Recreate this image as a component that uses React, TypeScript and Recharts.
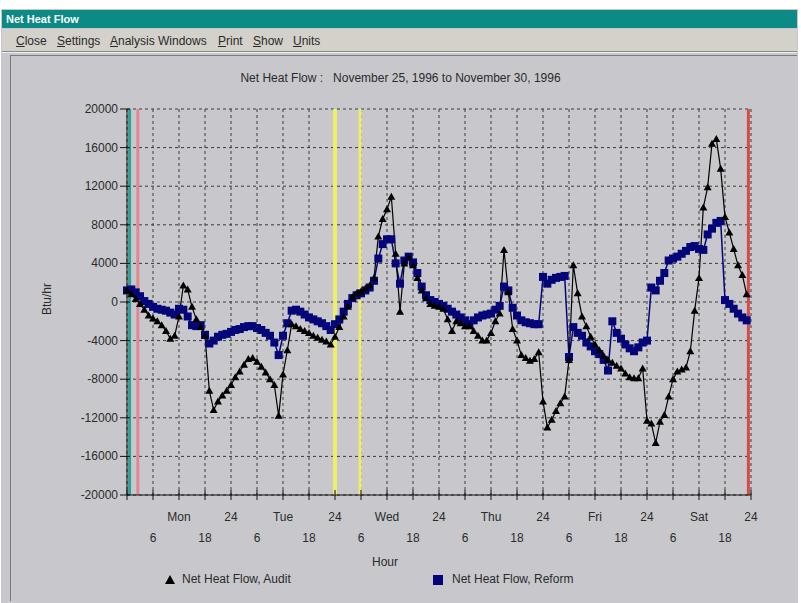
import React from "react";
import {
  LineChart,
  Line,
  XAxis,
  YAxis,
  CartesianGrid,
  ReferenceLine,
} from "recharts";

// hourly net heat flow, Mon 0h .. Sat 23h (Btu/hr)
const auditFlow = [
  1200, 800, 300, -200, -800, -1400, -1700, -2000, -2400, -3000,
  -3800, -3500, -1500, 1700, 1300, -500, -1800, -2600, -3500, -9200,
  -11200, -10300, -9700, -9200, -8600, -7800, -7200, -6500, -5900, -5800,
  -6200, -6700, -7300, -8000, -8600, -11800, -7500, -5000, -2300, -2500,
  -2800, -3000, -3200, -3500, -3700, -3900, -4100, -4400, -3600, -2600,
  -1500, -500, 500, 900, 1100, 1400, 1700, 2500, 6800, 8600,
  9600, 10900, 5000, -1000, 4000, 4600, 3800, 2500, 1200, 400,
  -200, -400, -500, -700, -1800, -3000, -2000, -2200, -2500, -2500,
  -3000, -3500, -4000, -4000, -3200, -2000, -1200, 5400, 1000, -2800,
  -4000, -5500, -5800, -6100, -5900, -5200, -10300, -13000, -12200, -11300,
  -10500, -9800, -6000, 3800, 900, -1500, -2500, -3600, -4400, -5000,
  -5600, -6000, -6300, -6600, -6900, -7400, -7800, -7900, -7900, -6900,
  -12300, -12600, -14600, -12400, -11700, -9800, -8000, -7200, -7000, -6800,
  -5100, -900, 2500, 9800, 11900, 16400, 16900, 13800, 8800, 7200,
  5500, 3800, 2800, 800,
];

const reformFlow = [
  1200, 1300, 1000, 600, 100, -200, -500, -700, -800, -900,
  -1100, -1300, -700, -800, -1500, -2400, -2500, -2400, -3400, -4300,
  -4000, -3600, -3400, -3300, -3100, -2900, -2800, -2600, -2500, -2500,
  -2700, -2900, -3200, -3500, -4200, -5500, -3500, -2200, -900, -800,
  -1000, -1300, -1600, -1800, -2000, -2200, -2500, -2900, -2300, -1800,
  -1000, -200, 400, 700, 900, 1200, 1500, 2200, 4500, 6000,
  6500, 6500, 4000, 1900, 4300, 4700, 4100, 3000, 1600, 700,
  200, 0, -200, -400, -700, -1000, -1300, -1600, -1900, -2300,
  -1900, -1600, -1400, -1300, -1200, -800, -400, 1600, 1200, -600,
  -1400, -1900, -2100, -2200, -2300, -2300, 2600, 1900, 2300, 2500,
  2600, 2700, -5700, -2600, -3200, -3500, -4200, -4600, -5100, -5400,
  -6000, -7100, -2000, -3200, -3800, -4400, -4800, -5100, -4700, -4200,
  -4000, 1500, 1200, 2200, 3000, 4300, 4500, 4700, 5000, 5300,
  5700, 5800, 5500, 5400, 7000, 7600, 8200, 8400, 200, -200,
  -700, -1200, -1600, -1900,
];

const dayNames = ["Mon", "Tue", "Wed", "Thu", "Fri", "Sat"];
const hourTicks = [0, 6, 12, 18, 24, 30, 36, 42, 48, 54, 60, 66, 72, 78, 84, 90, 96, 102, 108, 114, 120, 126, 132, 138, 144];
const flowTicks = [-20000, -16000, -12000, -8000, -4000, 0, 4000, 8000, 12000, 16000, 20000];
const menuItems = ["Close", "Settings", "Analysis Windows", "Print", "Show", "Units"];
const menuLeft = [16, 57, 110, 218, 253, 293];

const data = auditFlow.map((v, i) => ({ hour: i, audit: v, reform: reformFlow[i] }));

const FONT = "'Liberation Sans', Arial, sans-serif";
const TEXT = "#2a2a2a";
const NAVY = "#05057a";

const HourTick = (props: any) => {
  const { x, y, payload } = props;
  const h = payload.value;
  let top = "";
  let bottom = "";
  if (h > 0 && h % 12 === 0) top = h % 24 === 0 ? "24" : dayNames[Math.floor(h / 24)];
  if (h % 12 === 6) bottom = h % 24 === 6 ? "6" : "18";
  return (
    <g>
      <line x1={x} x2={x} y1={y - 5} y2={y + 5} stroke="#111" />
      {top && (
        <text x={x} y={y + 26} textAnchor="middle" fontSize={12} fill={TEXT} fontFamily={FONT}>
          {top}
        </text>
      )}
      {bottom && (
        <text x={x} y={y + 47} textAnchor="middle" fontSize={12} fill={TEXT} fontFamily={FONT}>
          {bottom}
        </text>
      )}
    </g>
  );
};

const FlowTick = (props: any) => {
  const { x, y, payload } = props;
  return (
    <g>
      <line x1={x - 7} x2={x + 3} y1={y} y2={y} stroke="#111" />
      <text x={x - 9} y={y + 4} textAnchor="end" fontSize={12} fill={TEXT} fontFamily={FONT}>
        {payload.value}
      </text>
    </g>
  );
};

const TriDot = (props: any) => {
  const { cx, cy, index } = props;
  if (cx == null || cy == null) return <g key={`t-${index}`} />;
  return <path key={`t-${index}`} d={`M${cx},${cy - 4} L${cx + 4},${cy + 3} L${cx - 4},${cy + 3} Z`} fill="#000" />;
};

const SquareDot = (props: any) => {
  const { cx, cy, index } = props;
  if (cx == null || cy == null) return <g key={`s-${index}`} />;
  return <rect key={`s-${index}`} x={cx - 4} y={cy - 4} width={8} height={8} fill={NAVY} />;
};

export default function App() {
  return (
    <div style={{ position: "absolute", left: 0, top: 0, width: 801, height: 603, background: "#fff", overflow: "hidden", fontFamily: FONT }}>
      {/* window frame */}
      <div style={{ position: "absolute", left: 1, top: 9, width: 797, height: 594, background: "#c8c8cc" }} />
      <div style={{ position: "absolute", left: 2, top: 10, width: 795, height: 18, background: "#0b8a86", color: "#fff", fontSize: 11, fontWeight: "bold", lineHeight: "18px", paddingLeft: 4, boxSizing: "border-box" }}>
        Net Heat Flow
      </div>
      <div style={{ position: "absolute", left: 2, top: 29, width: 795, height: 22, background: "#d3d1ca" }} />
      {menuItems.map((m, i) => (
        <div key={m} style={{ position: "absolute", left: menuLeft[i], top: 34, fontSize: 12, color: TEXT }}>
          <span style={{ textDecoration: "underline" }}>{m[0]}</span>
          {m.slice(1)}
        </div>
      ))}
      <div style={{ position: "absolute", left: 2, top: 51, width: 795, height: 1, background: "#8a8a8a" }} />
      <div style={{ position: "absolute", left: 2, top: 52, width: 795, height: 1, background: "#eee" }} />
      <div style={{ position: "absolute", left: 10, top: 55, width: 786, height: 545, borderLeft: "1px solid #7a7a7a", borderTop: "1px solid #7a7a7a" }} />

      <div style={{ position: "absolute", left: 0, width: 801, top: 71, textAlign: "center", fontSize: 12, color: TEXT, whiteSpace: "pre" }}>
        {"Net Heat Flow :   November 25, 1996 to November 30, 1996"}
      </div>

      <div style={{ position: "absolute", left: 0, top: 0 }}>
        <LineChart width={801} height={603} data={data} margin={{ top: 109, right: 50, bottom: 0, left: 67 }}>
          <CartesianGrid stroke="#3a3a3a" strokeDasharray="3 3" />
          <XAxis
            dataKey="hour"
            type="number"
            domain={[0, 144]}
            ticks={hourTicks}
            interval={0}
            height={108}
            tickSize={0}
            tickMargin={0}
            tickLine={false}
            axisLine={{ stroke: "#111" }}
            tick={<HourTick />}
          />
          <YAxis
            type="number"
            domain={[-20000, 20000]}
            ticks={flowTicks}
            interval={0}
            width={60}
            tickSize={0}
            tickMargin={0}
            tickLine={false}
            axisLine={{ stroke: "#111" }}
            tick={<FlowTick />}
          />
          <ReferenceLine x={0.6} stroke="#2f9f9c" strokeWidth={3} />
          <ReferenceLine x={2.5} stroke="#e08890" strokeWidth={3} />
          <ReferenceLine x={48} stroke="#eeee6a" strokeWidth={4} />
          <ReferenceLine x={53.8} stroke="#eeee6a" strokeWidth={3} />
          <ReferenceLine x={143.4} stroke="#d84a4a" strokeWidth={3} />
          <Line
            dataKey="reform"
            stroke={NAVY}
            strokeWidth={1.5}
            dot={SquareDot}
            activeDot={false}
            isAnimationActive={false}
          />
          <Line
            dataKey="audit"
            stroke="#000"
            strokeWidth={1.2}
            dot={TriDot}
            activeDot={false}
            isAnimationActive={false}
          />
        </LineChart>
      </div>

      {/* axis titles */}
      <div style={{ position: "absolute", left: 27, top: 292, width: 40, textAlign: "center", fontSize: 12, color: TEXT, transform: "rotate(-90deg)" }}>
        Btu/hr
      </div>
      <div style={{ position: "absolute", left: 365, top: 555, width: 40, textAlign: "center", fontSize: 12, color: TEXT }}>
        Hour
      </div>

      {/* legend */}
      <svg style={{ position: "absolute", left: 164, top: 574 }} width={12} height={12}>
        <path d="M6,1 L11,10 L1,10 Z" fill="#000" />
      </svg>
      <div style={{ position: "absolute", left: 182, top: 572, fontSize: 12, color: TEXT }}>Net Heat Flow, Audit</div>
      <svg style={{ position: "absolute", left: 432, top: 574 }} width={12} height={12}>
        <rect x={1} y={1} width={10} height={10} fill={NAVY} />
      </svg>
      <div style={{ position: "absolute", left: 452, top: 572, fontSize: 12, color: TEXT }}>Net Heat Flow, Reform</div>
    </div>
  );
}
